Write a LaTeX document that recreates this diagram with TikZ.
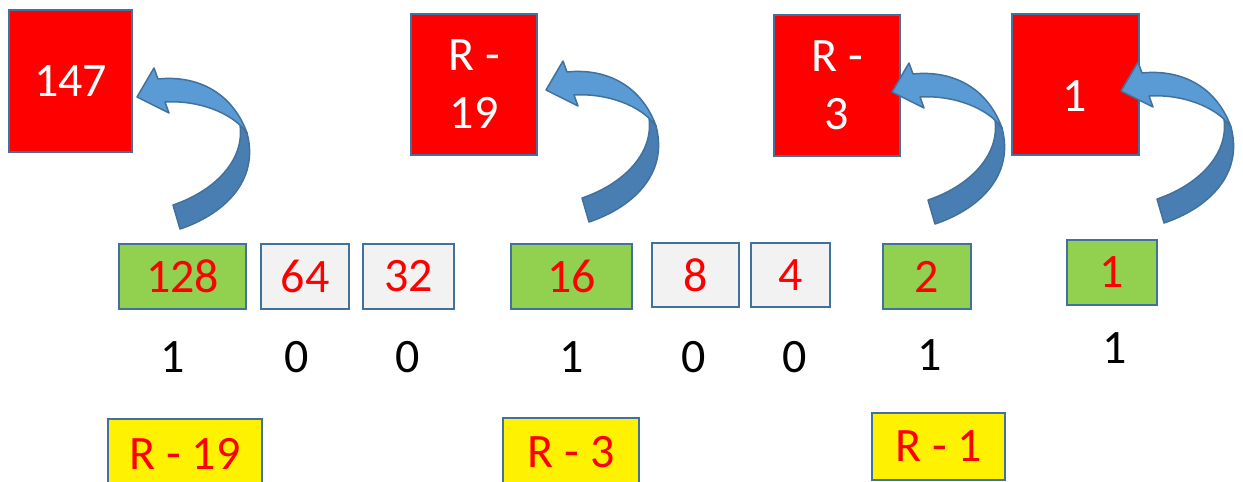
\documentclass[tikz,border=0pt]{standalone}
\usepackage{fontspec}
\setmainfont{Carlito}
\definecolor{boxline}{RGB}{65,113,156}
\definecolor{greenfill}{RGB}{146,208,80}
\definecolor{grayfill}{RGB}{242,242,242}
\definecolor{arrowlight}{RGB}{91,155,213}
\definecolor{arrowdark}{RGB}{72,126,177}
\definecolor{arrowline}{RGB}{65,113,156}
\tikzset{
  pics/curvedarrow/.style={code={
    \filldraw[fill=arrowdark, draw=arrowline, line width=1.5pt, line join=round]
      (103,28) .. controls (108,65) and (75,95) .. (36,108) -- (43,132)
      .. controls (85,118) and (123,85) .. (110,36) -- cycle;
    \filldraw[fill=arrowlight, draw=arrowline, line width=1.5pt, line join=round]
      (0,0) -- (17,-29) -- (21,-18) .. controls (60,-22) and (95,-5) .. (110,36)
      .. controls (95,15) and (60,3) .. (28,5) -- (32,16) -- cycle;
  }}
}
\begin{document}
\begin{tikzpicture}[x=1pt,y=-1pt,
  bigfont/.style={font=\fontsize{48}{58}\selectfont},
  redbox/.style={draw=boxline, fill=red, line width=2pt, minimum width=125pt, minimum height=141pt, inner sep=0pt, text=white, align=center, bigfont},
  wtext/.style={text=white, inner sep=0pt, bigfont},
  bitbox/.style={draw=boxline, line width=2.5pt, minimum height=65pt, inner sep=0pt, text=red, bigfont},
  onbit/.style={bitbox, fill=greenfill},
  offbit/.style={bitbox, fill=grayfill},
  yelbox/.style={draw=boxline, fill=yellow, line width=2.5pt, minimum height=69pt, inner sep=0pt, text=red, bigfont},
  digit/.style={text=black, bigfont, inner sep=0pt}
]
\useasboundingbox (0,0) rectangle (1243,482);

% result boxes
\node[redbox, minimum width=123pt, minimum height=142pt] (r1) at (70.5,81) {147};
\node[redbox, minimum width=126pt] (r2) at (474,84.5) {R -\\19};
\node[redbox, minimum width=126pt] (r3) at (837,85.5) {R -\\3};
\node[redbox, minimum width=127pt] (r4) at (1075.5,84.5) {};
\node[wtext] (r4t) at (1075,96) {1};

% curved arrows
\pic at (137,97) {curvedarrow};
\pic at (546,90) {curvedarrow};
\pic at (892,92) {curvedarrow};
\pic at (1121,91) {curvedarrow};

% bit value boxes
\node[onbit, minimum width=127pt] (b128) at (182.5,276.5) {128};
\node[offbit, minimum width=88pt] (b64) at (305,276.5) {64};
\node[offbit, minimum width=91pt] (b32) at (408.5,276.5) {32};
\node[onbit, minimum width=121pt] (b16) at (571.5,276.5) {16};
\node[offbit, minimum width=87pt, minimum height=64pt] (b8) at (695.5,275) {8};
\node[offbit, minimum width=79pt, minimum height=64pt] (b4) at (790.5,275) {4};
\node[onbit, minimum width=88pt] (b2) at (927,276.5) {2};
\node[onbit, minimum width=90pt] (b1) at (1112,272.5) {1};

% binary digits
\node[digit] (d128) at (173,357) {1};
\node[digit] (d64) at (297,357) {0};
\node[digit] (d32) at (408,357) {0};
\node[digit] (d16) at (572,357) {1};
\node[digit] (d8) at (694,357) {0};
\node[digit] (d4) at (795,357) {0};
\node[digit] (d2) at (930,355) {1};
\node[digit] (d1) at (1115,348) {1};

% remainders
\node[yelbox, minimum width=154pt, minimum height=70pt] (y1) at (185,454) {R - 19};
\node[yelbox, minimum width=136pt] (y2) at (571,452.5) {R - 3};
\node[yelbox, minimum width=133pt, minimum height=67pt] (y3) at (938.5,446.5) {R - 1};
\end{tikzpicture}
\end{document}
